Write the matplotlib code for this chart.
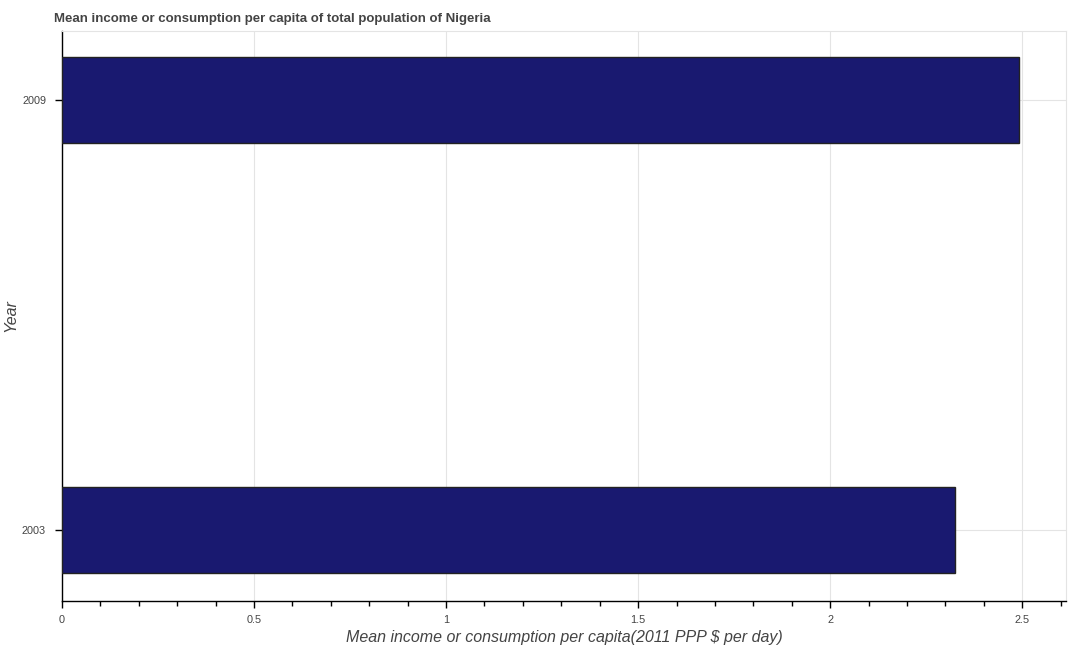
#!/usr/bin/env python3
"""Mean income or consumption per capita, Nigeria: horizontal bar chart."""
import matplotlib

matplotlib.use("Agg")
import matplotlib.pyplot as plt
from matplotlib.ticker import MultipleLocator

plt.rcParams["font.family"] = ["Liberation Sans", "DejaVu Sans"]

years = ["2003", "2009"]
values = [2.326, 2.492]  # 2011 PPP $ per day

fig = plt.figure(figsize=(10.71, 6.5), dpi=100)
ax = fig.add_axes([0.0579, 0.0754, 0.9374, 0.8769])

ax.barh(range(len(years)), values, height=0.2, color="#191970",
        edgecolor="#222222", linewidth=1.0, zorder=3)

ax.set_xlim(0, 2.614)
ax.set_ylim(-0.165, 1.16)
ax.set_yticks(range(len(years)))
ax.set_yticklabels(years)
ax.xaxis.set_major_locator(MultipleLocator(0.5))
ax.xaxis.set_minor_locator(MultipleLocator(0.1))
ax.set_xticklabels([f"{t:g}" for t in ax.get_xticks()])

ax.grid(True, which="major", color="#e4e4e4", linewidth=0.8, zorder=0)
ax.tick_params(axis="both", which="major", length=5, width=1,
               labelsize=7.8, labelcolor="#444444")
ax.tick_params(axis="x", which="major", pad=5)
ax.tick_params(axis="y", which="major", pad=6.5)
ax.tick_params(axis="x", which="minor", length=3.5, width=1)

for side in ("top", "right"):
    ax.spines[side].set_color("#e4e4e4")
for side in ("left", "bottom"):
    ax.spines[side].set_color("black")
    ax.spines[side].set_linewidth(1)

ax.set_xlabel("Mean income or consumption per capita(2011 PPP $ per day)",
              fontsize=11.5, style="italic", color="#444444", labelpad=4)
ax.set_ylabel("Year", fontsize=11.5, style="italic", color="#444444")
ax.yaxis.set_label_coords(-0.044, 0.5)
fig.text(0.0505, 0.971, "Mean income or consumption per capita of total population of Nigeria",
         fontsize=9.5, fontweight="bold", color="#444444", va="center", ha="left")

fig.savefig("out.png", dpi=100)
